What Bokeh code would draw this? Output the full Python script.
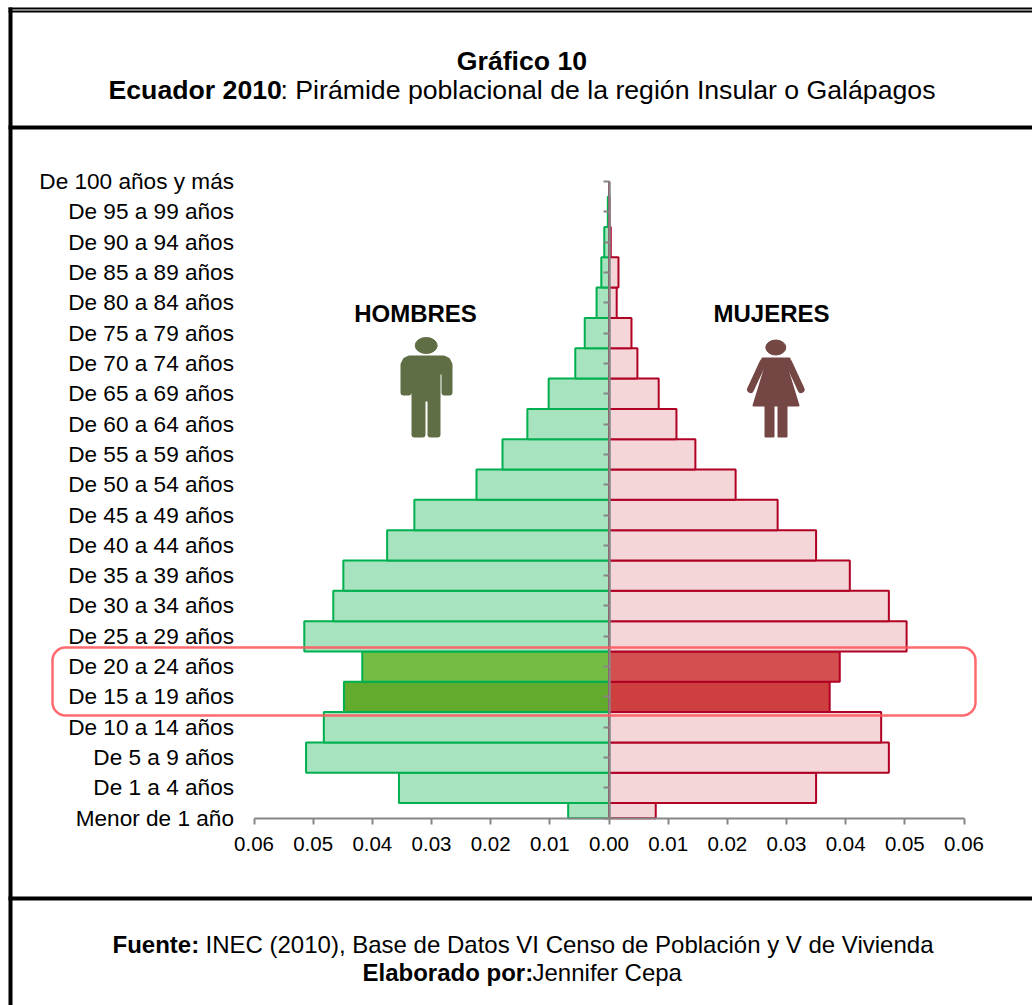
from bokeh.plotting import figure
from bokeh.embed import file_html
from bokeh.resources import INLINE
from bokeh.models import Range1d, LinearAxis, FixedTicker, Label, BoxAnnotation

categories = ["Menor de 1 año","De 1 a 4 años","De 5 a 9 años","De 10 a 14 años","De 15 a 19 años",
 "De 20 a 24 años","De 25 a 29 años","De 30 a 34 años","De 35 a 39 años","De 40 a 44 años",
 "De 45 a 49 años","De 50 a 54 años","De 55 a 59 años","De 60 a 64 años","De 65 a 69 años",
 "De 70 a 74 años","De 75 a 79 años","De 80 a 84 años","De 85 a 89 años","De 90 a 94 años",
 "De 95 a 99 años","De 100 años y más"]
hombres = [0.0069,0.0355,0.0512,0.0482,0.0448,0.0417,0.0515,0.0466,0.0449,0.0375,0.0329,0.0224,
           0.0180,0.0138,0.0102,0.0057,0.0041,0.0021,0.0013,0.0008,0.0002,0.0]
mujeres = [0.0079,0.0350,0.0473,0.0460,0.0373,0.0390,0.0503,0.0473,0.0407,0.0350,0.0285,0.0214,
           0.0146,0.0114,0.0084,0.0048,0.0038,0.0013,0.0016,0.0003,0.0001,0.0]
x_ticks = [-0.06,-0.05,-0.04,-0.03,-0.02,-0.01,0.0,0.01,0.02,0.03,0.04,0.05,0.06]
x_labels = ["0.06","0.05","0.04","0.03","0.02","0.01","0.00","0.01","0.02","0.03","0.04","0.05","0.06"]

FONT = "Liberation Sans"
GRAY = "#868686"
W, H = 1032, 1005
L, R, T, B = 253.5, 963.5, 181.0, 817.7   # plot box in page pixels
n = len(categories)
kx = (R-L)/0.12
ky = (B-T)/(n-1)
CX = (L+R)/2
def dx(x): return (x-CX)/kx
def dy(y): return (B-y)/ky

p = figure(width=W, height=H, output_backend="svg", toolbar_location=None,
           x_range=Range1d(dx(0), dx(W)), y_range=Range1d(dy(H), dy(0)),
           x_axis_type=None, y_axis_type=None,
           min_border_left=0, min_border_right=0, min_border_top=0, min_border_bottom=0)
p.outline_line_color = None
p.grid.visible = False

ys = list(range(n))
tops = [min(i+0.5, n-1) for i in ys]
bottoms = [max(i-0.5, 0) for i in ys]
g_fill = ["#A6E3BE"]*n; r_fill = ["#F4D6D8"]*n
g_fill[4], g_fill[5] = "#62AB2C", "#75BC44"
r_fill[4], r_fill[5] = "#CE4040", "#D45050"
p.quad(left=[-v for v in hombres], right=[0]*n, top=tops, bottom=bottoms, fill_color=g_fill,
       line_color="#00B050", line_width=2)
p.quad(left=[0]*n, right=mujeres, top=tops, bottom=bottoms, fill_color=r_fill,
       line_color="#B00024", line_width=2)

# category labels, far from the centre line
ax_l = LinearAxis(ticker=FixedTicker(ticks=ys), fixed_location=-0.06, bounds=(0, n-1),
                  major_label_overrides={i: c for i, c in enumerate(categories)},
                  axis_line_color=None, major_tick_line_color=None, minor_tick_line_color=None,
                  major_label_standoff=14, major_label_text_font=FONT, major_label_text_font_size="22.6px",
                  major_label_text_color="#000000")
p.add_layout(ax_l, "left")

# centre axis line with ticks
ax_c = LinearAxis(ticker=FixedTicker(ticks=ys), fixed_location=0, bounds=(0, n-1), major_label_text_color=None,
                  major_label_text_font_size="1px", axis_line_color=GRAY, axis_line_width=2.5,
                  major_tick_line_color=GRAY, major_tick_line_width=2, major_tick_in=0, major_tick_out=6,
                  minor_tick_line_color=None, major_label_overrides={i: "" for i in ys})
p.add_layout(ax_c, "left")

ax_b = LinearAxis(ticker=FixedTicker(ticks=x_ticks), fixed_location=0, bounds=(-0.06, 0.06),
                  major_label_overrides=dict(zip(x_ticks, x_labels)),
                  axis_line_color=GRAY, axis_line_width=2, major_tick_line_color=GRAY, major_tick_line_width=2,
                  major_tick_in=0, major_tick_out=6, minor_tick_line_color=None, major_label_standoff=13,
                  major_label_text_font=FONT, major_label_text_font_size="20.5px", major_label_text_color="#000000")
p.add_layout(ax_b, "below")

def box(l, t, r, b, **kw):
    p.add_layout(BoxAnnotation(left=l, right=r, top=t, bottom=b, left_units="canvas", right_units="canvas",
                 top_units="canvas", bottom_units="canvas", level="overlay", **kw))

K = dict(fill_color="#000000", fill_alpha=1, line_color=None)
box(8, 7, 1032, 9, **K)
box(8, 10, 1032, 12, **K)
box(8, 7, 12, 1005, **K)
box(8, 125, 1032, 129, **K)
box(8, 896, 1032, 900, **K)
box(52, 647, 975, 715, fill_color=None, fill_alpha=0, line_color="#FF5A5F", line_width=2.5, line_alpha=0.9, border_radius=13)

def label(x, y, text, size, bold=False, align="center"):
    p.add_layout(Label(x=x, y=y, x_units="canvas", y_units="canvas", text=text, text_font=FONT,
                       text_font_size=size, text_font_style="bold" if bold else "normal",
                       text_align=align, text_baseline="middle", text_color="#000000"))

label(521.5, 60, "Gráfico 10", "26.67px", True)
label(108, 89, "Ecuador 2010", "26.67px", True, "left")
label(280, 89, ": Pirámide poblacional de la región Insular o Galápagos", "26.67px", False, "left")
label(112, 944, "Fuente:", "24px", True, "left")
label(205, 944, "INEC (2010), Base de Datos VI Censo de Población y V de Vivienda", "24px", False, "left")
label(362, 972, "Elaborado por:", "24px", True, "left")
label(532, 972, "Jennifer Cepa", "24px", False, "left")
label(415, 313, "HOMBRES", "24px", True)
label(771, 313, "MUJERES", "24px", True)

# pictograms, outlined in page pixels
def shape(pts, color, lw):
    p.patch([dx(a) for a, _ in pts], [dy(b) for _, b in pts], fill_color=color, line_color=color,
            line_width=lw, line_join="round")
MAN, WOM = "#5F6E44", "#744644"
p.ellipse(x=[dx(425.7)], y=[dy(345)], width=22/kx, height=16/ky, fill_color=MAN, line_color=MAN)
shape([(409,358),(443,358),(447,360),(449,364),(449,392),(444,392),(444,371),(437,371),(437,434),(430,434),(430,398),(422,398),
       (422,434),(414,434),(414,371),(408,371),(408,392),(403,392),(403,364),(405,360)], MAN, 6)
p.ellipse(x=[dx(775.3)], y=[dy(347)], width=20/kx, height=15/ky, fill_color=WOM, line_color=WOM)
shape([(762,358),(789,358),(787,369),(798,405),(786,405),(786,436),(778,436),(778,405),(773,405),(773,436),(765,436),(765,405),(753,405),(764,369)], WOM, 2)
for x0, x1 in ((762.5, 750), (788.1, 800.6)):
    p.line([dx(x0), dx(x1)], [dy(362), dy(389)], line_color=WOM, line_width=7, line_cap="round")

open("out.html", "w").write(file_html(p, INLINE))
